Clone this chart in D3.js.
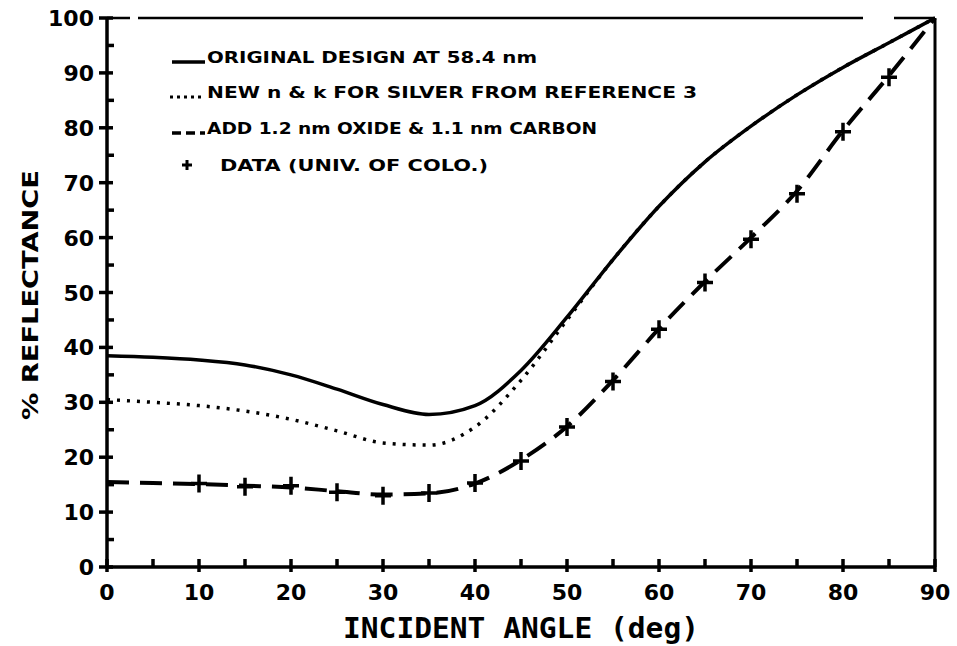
<!DOCTYPE html>
<html>
<head>
<meta charset="utf-8">
<script src="https://cdn.jsdelivr.net/npm/d3@7"></script>
<style>
  body { margin: 0; background: #fff; }
  text { fill: #000; font-family: "DejaVu Sans", sans-serif; font-weight: bold; }
  .tick-label { font-size: 22px; }
  .legend { font-size: 15px; }
  .title { font-family: "DejaVu Sans Mono", monospace; font-size: 28px; }
</style>
</head>
<body>
<svg width="957" height="646"></svg>
<script>
// angles (deg)
var angles = [0, 5, 10, 15, 20, 25, 30, 35, 40, 45, 50, 55, 60, 65, 70, 75, 80, 85, 90];
// original design at 58.4 nm
var original = [38.5, 38.2, 37.7, 36.8, 35.0, 32.4, 29.6, 27.8, 29.4, 35.8, 45.5, 56.0, 65.7, 73.8, 80.3, 86.0, 91.0, 95.5, 100];
// new n & k for silver
var newNK = [30.5, 30.0, 29.4, 28.4, 26.9, 24.8, 22.6, 22.2, 25.5, 34.0, 45.0, 56.0, 65.7, 73.8, 80.3, 86.0, 91.0, 95.5, 100];
// oxide + carbon
var oxide = [15.5, 15.3, 15.1, 14.8, 14.5, 13.8, 13.2, 13.4, 15.2, 19.5, 25.6, 34.0, 43.4, 52.0, 60.0, 68.5, 79.5, 89.5, 100];
// measured data
var dataAngles = [10, 15, 20, 25, 30, 35, 40, 45, 50, 55, 60, 65, 70, 75, 80, 85];
var dataValues = [15.2, 14.6, 14.8, 13.6, 13.0, 13.5, 15.3, 19.3, 25.5, 33.8, 43.3, 51.8, 59.7, 68.0, 79.3, 89.2];

var xTicks = [0, 10, 20, 30, 40, 50, 60, 70, 80, 90];
var yTicks = [0, 10, 20, 30, 40, 50, 60, 70, 80, 90, 100];
var legendLabels = [
  "ORIGINAL DESIGN AT 58.4 nm",
  "NEW n & k FOR SILVER FROM REFERENCE 3",
  "ADD 1.2 nm OXIDE & 1.1 nm CARBON",
  "DATA (UNIV. OF COLO.)"
];

var svg = d3.select("svg");
var x = d3.scaleLinear().domain([0, 90]).range([107, 935]);
var y = d3.scaleLinear().domain([0, 100]).range([567, 18]);

// frame
svg.append("line").attr("x1", x(0)).attr("x2", x(90)).attr("y1", y(100)).attr("y2", y(100))
  .attr("stroke", "#000").attr("stroke-width", 2.5).attr("stroke-dasharray", "23,8,725,31,120");
svg.append("line").attr("x1", x(90)).attr("x2", x(90)).attr("y1", y(100)).attr("y2", y(0))
  .attr("stroke", "#000").attr("stroke-width", 3);
svg.append("line").attr("x1", x(0)).attr("x2", x(0)).attr("y1", y(100)).attr("y2", y(0))
  .attr("stroke", "#000").attr("stroke-width", 3.5);
svg.append("line").attr("x1", x(0)).attr("x2", x(90)).attr("y1", y(0)).attr("y2", y(0))
  .attr("stroke", "#000").attr("stroke-width", 3.5);

// y ticks
yTicks.forEach(function(v) {
  svg.append("line").attr("x1", x(0) - 8).attr("x2", x(0) + 6).attr("y1", y(v)).attr("y2", y(v))
    .attr("stroke", "#000").attr("stroke-width", 3.5);
  svg.append("text").attr("class", "tick-label").attr("x", x(0) - 13).attr("y", y(v) + 8)
    .attr("text-anchor", "end").text(v);
  if (v < 100) {
    svg.append("line").attr("x1", x(0)).attr("x2", x(0) + 7).attr("y1", y(v + 5)).attr("y2", y(v + 5))
      .attr("stroke", "#000").attr("stroke-width", 3.5);
  }
});
// x ticks
xTicks.forEach(function(v) {
  svg.append("line").attr("x1", x(v)).attr("x2", x(v)).attr("y1", y(0) + 5).attr("y2", y(0) - 8)
    .attr("stroke", "#000").attr("stroke-width", 3.5);
  svg.append("text").attr("class", "tick-label").attr("x", x(v)).attr("y", y(0) + 33)
    .attr("text-anchor", "middle").text(v);
  if (v < 90) {
    svg.append("line").attr("x1", x(v + 5)).attr("x2", x(v + 5)).attr("y1", y(0)).attr("y2", y(0) - 8)
      .attr("stroke", "#000").attr("stroke-width", 3.5);
  }
});

// axis titles
svg.append("text").attr("class", "title").attr("x", 521).attr("y", 638)
  .attr("text-anchor", "middle").attr("textLength", 356).attr("lengthAdjust", "spacingAndGlyphs")
  .text("INCIDENT ANGLE (deg)");
svg.append("text").attr("class", "tick-label")
  .attr("transform", "translate(38,295) rotate(-90)")
  .attr("text-anchor", "middle").attr("textLength", 250).attr("lengthAdjust", "spacingAndGlyphs")
  .text("% REFLECTANCE");

// curves
var line = d3.line().curve(d3.curveMonotoneX)
  .x(function(d) { return x(d[0]); }).y(function(d) { return y(d[1]); });

svg.append("path").datum(d3.zip(angles, newNK)).attr("d", line)
  .attr("fill", "none").attr("stroke", "#000").attr("stroke-width", 3.5)
  .attr("stroke-dasharray", "3,7");
svg.append("path").datum(d3.zip(angles, original)).attr("d", line)
  .attr("fill", "none").attr("stroke", "#000").attr("stroke-width", 3.5);
svg.append("path").datum(d3.zip(angles, oxide)).attr("d", line)
  .attr("fill", "none").attr("stroke", "#000").attr("stroke-width", 4)
  .attr("stroke-dasharray", "22,11");

// data crosses
svg.selectAll(".pt").data(d3.zip(dataAngles, dataValues)).enter().append("path")
  .attr("class", "pt")
  .attr("d", function(d) {
    var cx = x(d[0]), cy = y(d[1]);
    return "M" + (cx - 8) + "," + cy + "H" + (cx + 8) + "M" + cx + "," + (cy - 9) + "V" + (cy + 9);
  })
  .attr("stroke", "#000").attr("stroke-width", 3.5).attr("fill", "none");

// legend
var legendRows = [57, 92, 128, 165];
var legendWidths = [330, 490, 390, 268];
var lg = svg.append("g");
lg.append("line").attr("x1", 172).attr("x2", 205).attr("y1", legendRows[0] + 5).attr("y2", legendRows[0] + 5)
  .attr("stroke", "#000").attr("stroke-width", 3.5);
lg.append("line").attr("x1", 170).attr("x2", 205).attr("y1", legendRows[1] + 5).attr("y2", legendRows[1] + 5)
  .attr("stroke", "#000").attr("stroke-width", 3).attr("stroke-dasharray", "3,4");
lg.append("line").attr("x1", 172).attr("x2", 205).attr("y1", legendRows[2] + 5).attr("y2", legendRows[2] + 5)
  .attr("stroke", "#000").attr("stroke-width", 3.5).attr("stroke-dasharray", "9,5");
lg.append("path").attr("d", "M182," + legendRows[3] + "H192M187," + (legendRows[3] - 5) + "V" + (legendRows[3] + 5))
  .attr("stroke", "#000").attr("stroke-width", 3);
legendLabels.forEach(function(t, i) {
  lg.append("text").attr("class", "legend")
    .attr("x", i === 3 ? 220 : 207).attr("y", legendRows[i] + 6)
    .attr("textLength", legendWidths[i]).attr("lengthAdjust", "spacingAndGlyphs")
    .text(t);
});
</script>
</body>
</html>
